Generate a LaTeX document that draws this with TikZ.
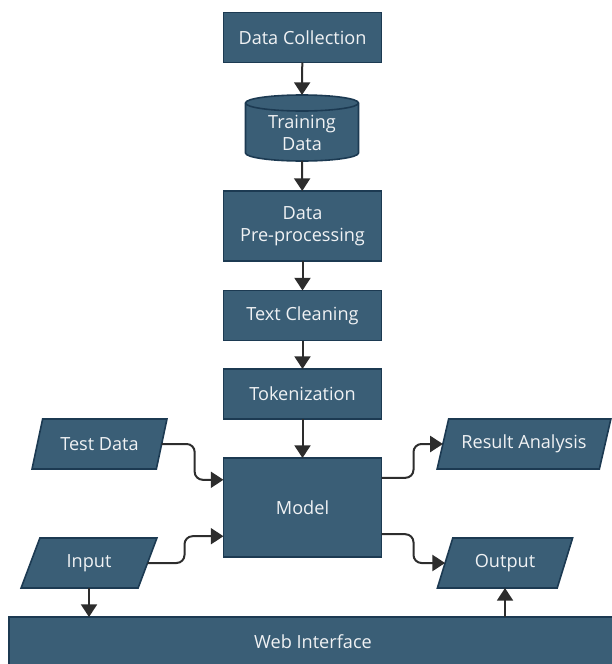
\documentclass[tikz,border=0pt]{standalone}
\usepackage{fontspec}
\setmainfont{Open Sans}
\usetikzlibrary{shapes.geometric,arrows.meta,calc}
\definecolor{boxfill}{RGB}{58,94,118}
\definecolor{boxline}{RGB}{28,58,82}
\definecolor{arrowcol}{RGB}{45,45,45}
\definecolor{txt}{RGB}{240,242,244}
\begin{document}
\begin{tikzpicture}[x=0.75pt,y=-0.75pt,
  base/.style={fill=boxfill,draw=boxline,line width=1.2pt,text=txt,font=\fontsize{13.6}{16.5}\selectfont,align=center,inner sep=2pt,outer sep=0pt},
  procbox/.style={base,rectangle,minimum width=118.5pt,minimum height=37.5pt},
  iobox/.style={base,trapezium,trapezium left angle=67,trapezium right angle=113,trapezium stretches=true,minimum height=37.5pt},
  conn/.style={draw=arrowcol,line width=1.5pt,-{Triangle[length=9.5pt,width=12pt]},rounded corners=6pt}]
\useasboundingbox (0,0) rectangle (611,664);
\node[procbox] (dc) at (302.5,37.5) {Data Collection};
% cylinder
\node[inner sep=0pt,outer sep=0pt,minimum width=84.75pt,minimum height=49.5pt] (td) at (302,128) {};
\path[base] ($(td.north west)+(0,8)$) -- ($(td.south west)+(0,-8)$)
  arc[start angle=180,end angle=0,x radius=56.5,y radius=8]
  -- ($(td.north east)+(0,8)$) arc[start angle=0,end angle=-180,x radius=56.5,y radius=8] -- cycle;
\path[base,fill=none] ($(td.north west)+(0,8)$) arc[start angle=180,end angle=0,x radius=56.5,y radius=8];
\node[text=txt,font=\fontsize{13.6}{16.5}\selectfont,align=center] at ($(td.center)+(0,5)$) {Training\\Data};
\node[procbox,minimum height=52.5pt] (pp) at (302.5,226) {Data\\Pre-processing};
\node[procbox] (tc) at (302.5,315.5) {Text Cleaning};
\node[procbox] (tok) at (302.5,394) {Tokenization};
\node[procbox,minimum height=74.25pt] (model) at (302.5,507.5) {Model};
\node[iobox,minimum width=101.25pt] (test) at (99.5,444) {Test Data};
\node[iobox,minimum width=102pt] (inp) at (89,563) {Input};
\node[iobox,minimum width=130.5pt] (res) at (524,444) {Result Analysis};
\node[iobox,minimum width=102pt] (out) at (505,563) {Output};
\node[procbox,minimum width=456pt,minimum height=37.5pt] (web) at (313,642) {Web Interface};
% connectors
\draw[conn] (dc) -- (td.north);
\draw[conn] (td.south) -- (pp);
\draw[conn] (pp) -- (tc);
\draw[conn] (tc) -- (tok);
\draw[conn] (tok) -- (model);
\draw[conn] (test.east) -- ++(33,0) |- ($(model.north west)!0.22!(model.south west)$);
\draw[conn] (inp.east) -- ++(37,0) |- ($(model.north west)!0.79!(model.south west)$);
\draw[conn] ($(model.north east)!0.2!(model.south east)$) -- ++(32,0) |- (res.west);
\draw[conn] ($(model.north east)!0.77!(model.south east)$) -- ++(32,0) |- (out.west);
\draw[conn] (inp.south) -- (inp.south |- web.north);
\draw[conn] (out.south |- web.north) -- (out.south);
\end{tikzpicture}
\end{document}
